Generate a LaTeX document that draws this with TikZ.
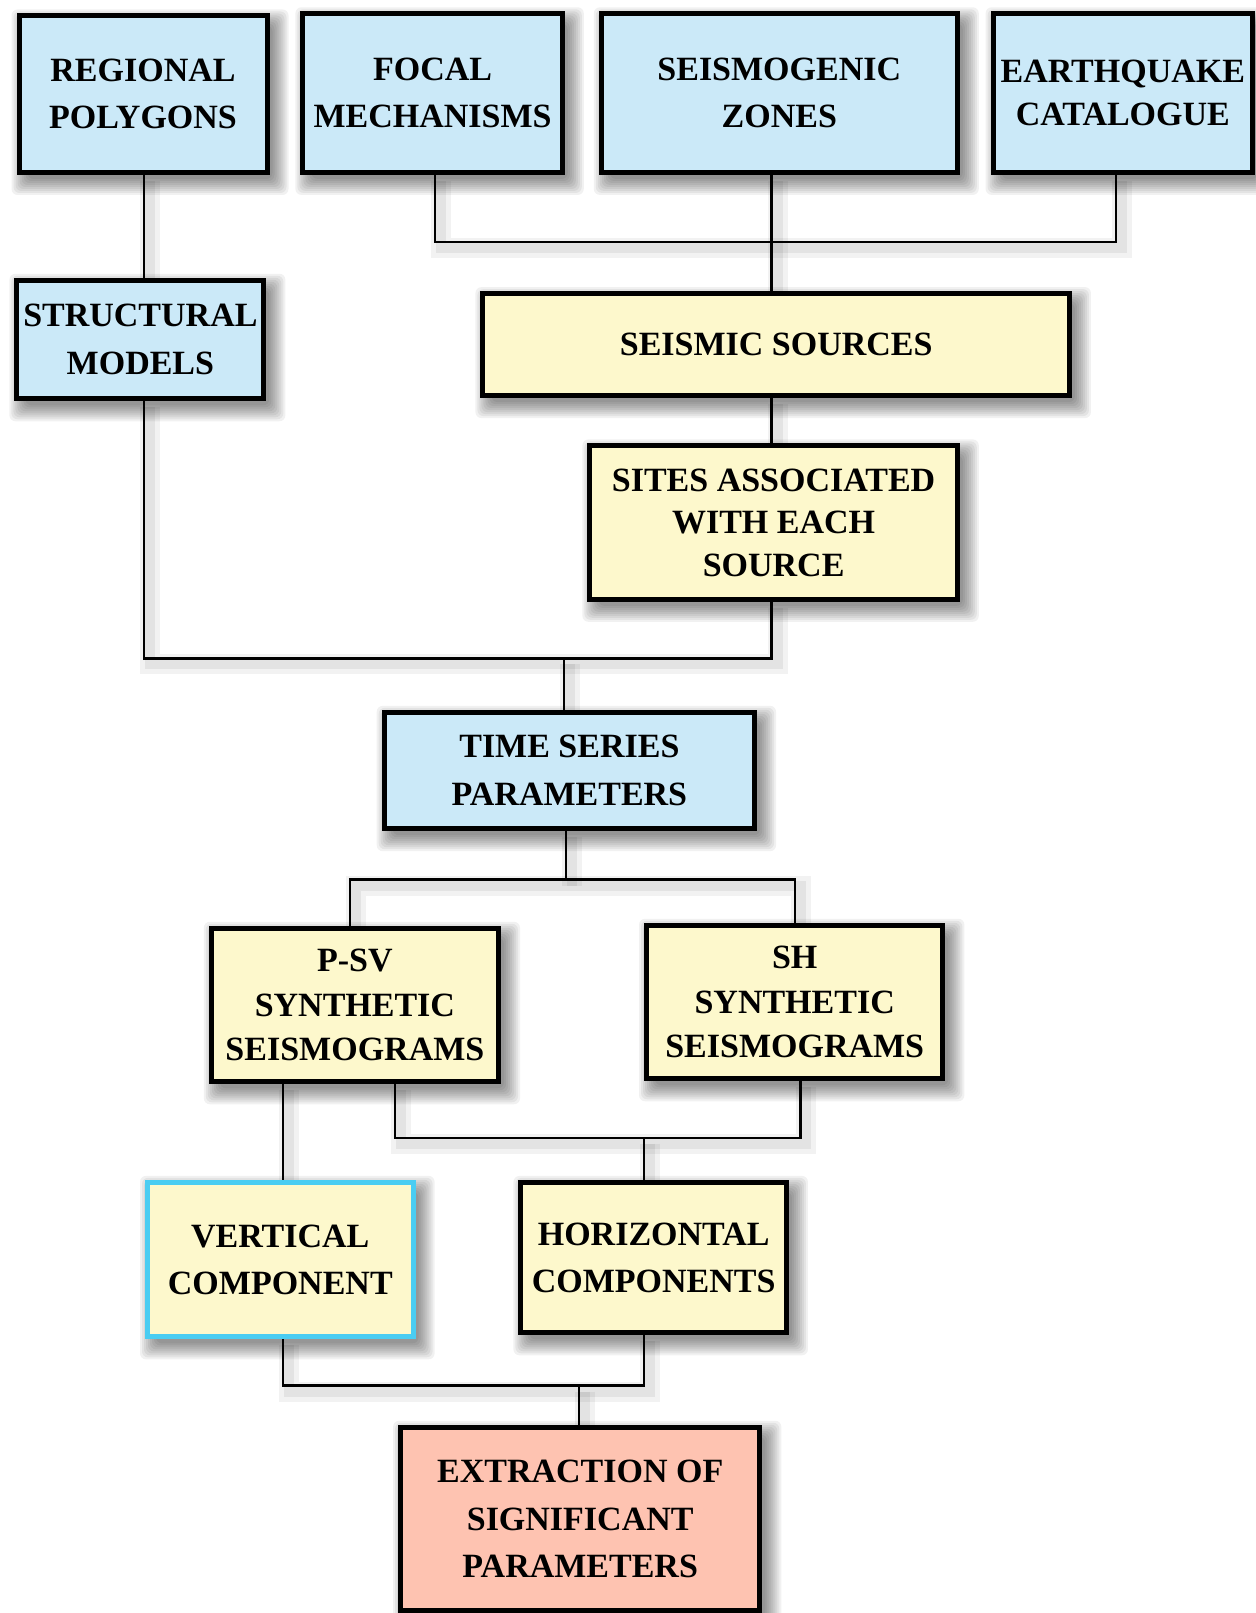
\documentclass[tikz,border=0pt]{standalone}
\usepackage{fontspec}
\setmainfont{Liberation Serif}
\pgfdeclarelayer{background}
\pgfdeclarelayer{shadowlayer}
\pgfdeclarelayer{bottom}
\pgfsetlayers{bottom,shadowlayer,background,main}
\definecolor{boxblue}{HTML}{CBE9F8}
\definecolor{boxyellow}{HTML}{FDF8CC}
\definecolor{boxsalmon}{HTML}{FEC3B1}
\definecolor{edgecyan}{HTML}{4ACDF2}
\tikzset{
  box/.style={draw=black, line width=2.5pt, align=center, inner sep=0pt,
    font=\bfseries\fontsize{17}{23.7}\selectfont},
  bluebox/.style={box, fill=boxblue},
  yellowbox/.style={box, fill=boxyellow},
  salmonbox/.style={box, fill=boxsalmon},
  tight/.style={font=\bfseries\fontsize{17}{21.3}\selectfont},
  shadowpiece/.style={fill=black, fill opacity=0.055, draw=none, rounded corners=3pt},
  conn/.style={draw=black, line width=1.2pt,
    preaction={draw=black, draw opacity=0.05, line width=10pt, transform canvas={xshift=3pt,yshift=-3pt}},
    preaction={draw=black, draw opacity=0.06, line width=5pt, transform canvas={xshift=3pt,yshift=-3pt}}}
}
\newcommand\boxshadow[1]{%
  \foreach \g in {0,...,8}{%
    \fill[shadowpiece] ([xshift={5.5pt-\g*1pt}, yshift={\g*1pt-6pt}]#1.north west)
      rectangle ([xshift={1.5pt+\g*1pt}, yshift={-2pt-\g*1pt}]#1.south east);
  }%
}
\begin{document}
\begin{tikzpicture}[x=0.5pt,y=-0.5pt]
\begin{pgfonlayer}{bottom}
\fill[white] (0,0) rectangle (1255,1613);
\end{pgfonlayer}
\useasboundingbox (0,0) rectangle (1255,1613);

\node[bluebox, minimum width=124pt, minimum height=78.25pt] (regional) at (143,94.2) {REGIONAL\\POLYGONS};
\node[bluebox, minimum width=129.7pt, minimum height=79.3pt] (focal) at (432.6,93.1) {FOCAL\\MECHANISMS};
\node[bluebox, minimum width=178pt, minimum height=79.3pt] (seismo) at (779.3,93.1) {SEISMOGENIC\\ZONES};
\node[bluebox, tight, minimum width=129.7pt, minimum height=79.3pt] (eq) at (1122.8,93.1) {EARTHQUAKE\\CATALOGUE};
\node[bluebox, minimum width=123.5pt, minimum height=59.25pt] (structural) at (140.4,339.5) {STRUCTURAL\\MODELS};
\node[yellowbox, minimum width=293.25pt, minimum height=51pt] (sources) at (776.2,344.6) {SEISMIC SOURCES};
\node[yellowbox, tight, minimum width=183.7pt, minimum height=76.7pt] (sites) at (773.6,522.6) {SITES ASSOCIATED\\WITH EACH\\SOURCE};
\node[bluebox, minimum width=185.2pt, minimum height=58.2pt] (timeser) at (569.4,770.5) {TIME SERIES\\PARAMETERS};
\node[yellowbox, font=\bfseries\fontsize{17}{22.3}\selectfont, minimum width=143.6pt, minimum height=76.75pt] (psv) at (354.9,1005) {P-SV\\SYNTHETIC\\SEISMOGRAMS};
\node[yellowbox, font=\bfseries\fontsize{17}{22.3}\selectfont, minimum width=148.2pt, minimum height=76.75pt] (sh) at (794.7,1002) {SH\\SYNTHETIC\\SEISMOGRAMS};
\node[yellowbox, draw=edgecyan, minimum width=132.8pt, minimum height=77.25pt] (vert) at (280.3,1259.6) {VERTICAL\\COMPONENT};
\node[yellowbox, minimum width=132.75pt, minimum height=75.2pt] (horiz) at (653.7,1257.6) {HORIZONTAL\\COMPONENTS};
\node[salmonbox, minimum width=179.6pt, minimum height=91.65pt] (extr) at (580.2,1518.9) {EXTRACTION OF\\SIGNIFICANT\\PARAMETERS};

\begin{pgfonlayer}{shadowlayer}
\boxshadow{regional}
\boxshadow{focal}
\boxshadow{seismo}
\boxshadow{eq}
\boxshadow{structural}
\boxshadow{sources}
\boxshadow{sites}
\boxshadow{timeser}
\boxshadow{psv}
\boxshadow{sh}
\boxshadow{vert}
\boxshadow{horiz}
\boxshadow{extr}
\end{pgfonlayer}

\coordinate (xa) at (144,0);
\coordinate (xfoc) at (435,0);
\coordinate (xeq) at (1116,0);
\coordinate (xs) at (771.5,0);
\coordinate (xt) at (563.7,0);
\coordinate (xt2) at (565.8,0);
\coordinate (xp) at (349.8,0);
\coordinate (xsh) at (795.2,0);
\coordinate (xv) at (282.9,0);
\coordinate (xp2) at (395,0);
\coordinate (xsh2) at (800.3,0);
\coordinate (xh) at (644,0);
\coordinate (xe) at (579.2,0);
\coordinate (y1) at (0,241.7);
\coordinate (y2) at (0,658.4);
\coordinate (y3) at (0,879.5);
\coordinate (y4) at (0,1137.7);
\coordinate (y5) at (0,1385.6);

\begin{pgfonlayer}{background}
\draw[conn] (xa |- regional.south) -- (xa |- structural.north);
\draw[conn] (xfoc |- focal.south) |- (xeq |- y1) -- (xeq |- eq.south);
\draw[conn] (xs |- seismo.south) -- (xs |- sources.north);
\draw[conn] (xs |- sources.south) -- (xs |- sites.north);
\draw[conn] (xa |- structural.south) |- (xs |- y2) -- (xs |- sites.south);
\draw[conn] (xt |- y2) -- (xt |- timeser.north);
\draw[conn] (xt2 |- timeser.south) -- (xt2 |- y3);
\draw[conn] (xp |- psv.north) |- (xsh |- y3) -- (xsh |- sh.north);
\draw[conn] (xv |- psv.south) -- (xv |- vert.north);
\draw[conn] (xp2 |- psv.south) |- (xsh2 |- y4) -- (xsh2 |- sh.south);
\draw[conn] (xh |- y4) -- (xh |- horiz.north);
\draw[conn] (xv |- vert.south) |- (xh |- y5) -- (xh |- horiz.south);
\draw[conn] (xe |- y5) -- (xe |- extr.north);
\end{pgfonlayer}
\end{tikzpicture}
\end{document}
